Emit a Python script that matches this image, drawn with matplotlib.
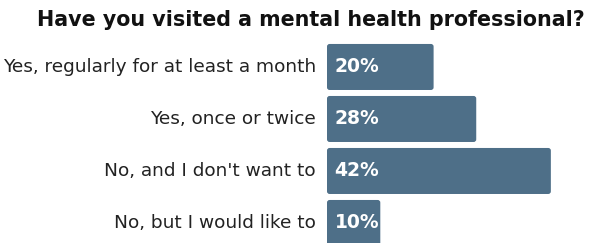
import matplotlib.pyplot as plt
from matplotlib.patches import FancyBboxPatch

categories = ["Yes, regularly for at least a month", "Yes, once or twice",
              "No, and I don't want to", "No, but I would like to"]
values = [20, 28, 42, 10]
labels = ["20%", "28%", "42%", "10%"]
title = "Have you visited a mental health professional?"

bar_color = "#4e6f88"

fig = plt.figure(figsize=(6.01, 2.43), dpi=100)
ax = fig.add_axes([327 / 601, 0, 274 / 601, 1])

ypos = list(range(len(values)))
bars = ax.barh(ypos, values, height=0.885, color=bar_color, left=0)
ax.set_xlim(0, 274 / 5.33)
ax.set_ylim(3.385, -1.288)
ax.axis("off")

# swap plain rectangles for slightly rounded ones
for b in bars:
    x, y, w, h = b.get_x(), b.get_y(), b.get_width(), b.get_height()
    b.set_visible(False)
    ax.add_patch(FancyBboxPatch((x, y), w, h,
                                boxstyle="round,pad=0,rounding_size=0.5",
                                mutation_aspect=0.1, color=bar_color, lw=0))

for y, v, lab, cat in zip(ypos, values, labels, categories):
    ax.text(1.4, y, lab, color="white", fontsize=13.5, fontweight="bold",
            family="DejaVu Sans", va="center", ha="left")
    ax.annotate(cat, xy=(0, y), xytext=(-8, 0), textcoords="offset points",
                ha="right", va="center", fontsize=13.3, family="DejaVu Sans",
                color="#222222")

fig.text(311 / 601, 1 - 20 / 243, title, ha="center", va="center",
         fontsize=14.9, fontweight="bold", family="DejaVu Sans", color="#111111")

fig.savefig("out.png", dpi=100)
